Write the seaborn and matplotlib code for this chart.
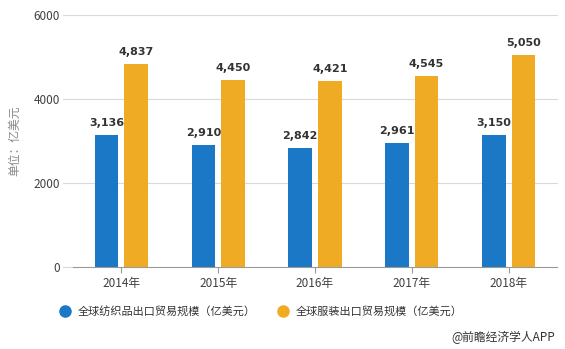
import matplotlib
matplotlib.use("Agg")
import matplotlib.pyplot as plt
import seaborn as sns
import pandas as pd
from matplotlib.lines import Line2D

years = ["2014年", "2015年", "2016年", "2017年", "2018年"]
textile = [3136, 2910, 2842, 2961, 3150]
apparel = [4837, 4450, 4421, 4545, 5050]
series_names = ["全球纺织品出口贸易规模（亿美元）", "全球服装出口贸易规模（亿美元）"]
colors = ["#1a78c6", "#efab24"]
y_ticks = [0, 2000, 4000, 6000]

df = pd.DataFrame({
    "year": years * 2,
    "value": textile + apparel,
    "series": [series_names[0]] * len(years) + [series_names[1]] * len(years),
})

sns.set_theme(style="white")
plt.rcParams["font.family"] = ["Noto Sans CJK SC", "DejaVu Sans"]

fig = plt.figure(figsize=(5.65, 3.49), dpi=100)
ax_left, ax_right = 73, 557
ax = fig.add_axes([ax_left / 565, 1 - 267 / 349, (ax_right - ax_left) / 565, (267 - 15) / 349])

sns.barplot(data=df, x="year", y="value", hue="series", palette=colors,
            width=0.61, gap=0.2, ax=ax, legend=False, saturation=1, linewidth=0)

ax.set_ylim(0, 6000)
ax.set_xlim(-0.5, len(years) - 0.5)
ax.set_yticks(y_ticks)
ax.set_yticklabels([str(t) for t in y_ticks], color="#404040", fontsize=8.5)
ax.set_xticks(range(len(years)))
ax.set_xticklabels(years, color="#404040", fontsize=8.5)

# gridlines reach a little past the left end of the axis line
grid_start = -10 / (ax_right - ax_left)
for t in y_ticks[1:]:
    ax.axhline(t, xmin=grid_start, xmax=1, color="#d9d9d9", linewidth=0.8,
               clip_on=False, zorder=0)
ax.axhline(0, xmin=grid_start, xmax=0, color="#d9d9d9", linewidth=0.8,
           clip_on=False, zorder=0)

for s in ["top", "right", "left"]:
    ax.spines[s].set_visible(False)
ax.spines["bottom"].set_color("#999999")
ax.spines["bottom"].set_linewidth(0.8)
ax.tick_params(axis="x", length=4, width=0.8, color="#999999", pad=3, direction="out", bottom=True)
ax.tick_params(axis="y", length=0, pad=9.5)
ax.set_xlabel("")
ax.set_ylabel("单位：亿美元", color="#888888", fontsize=8.5)
ax.yaxis.set_label_coords(-52 / (ax_right - ax_left), 0.5)

for container in ax.containers:
    ax.bar_label(container, labels=[f"{v:,.0f}" for v in container.datavalues],
                 padding=5, fontsize=8, fontweight="bold", color="#333333",
                 family="DejaVu Sans")

handles = [Line2D([0], [0], marker="o", linestyle="", markersize=8,
                  markerfacecolor=c, markeredgecolor=c) for c in colors]
fig.legend(handles, series_names, loc="center", bbox_to_anchor=(261 / 565, 1 - 311 / 349),
           ncol=2, frameon=False, fontsize=8, handlelength=1, handletextpad=0.6,
           columnspacing=2.0, labelcolor="#333333")

fig.text(555 / 565, 1 - 337 / 349, "@前瞻经济学人APP", ha="right", va="center",
         fontsize=8.5, color="#333333")

fig.savefig("out.png", dpi=100)
